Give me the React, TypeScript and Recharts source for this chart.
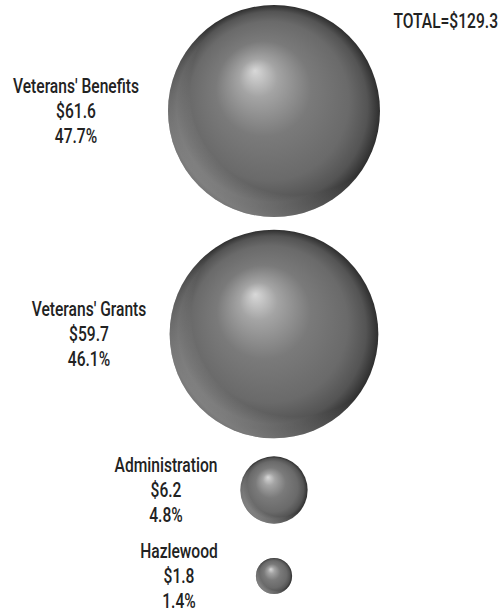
import { ScatterChart, Scatter, XAxis, YAxis, ZAxis } from "recharts";

const categories = ["Veterans' Benefits", "Veterans' Grants", "Administration", "Hazlewood"];
const amounts = [61.6, 59.7, 6.2, 1.8];
const shares = [47.7, 46.1, 4.8, 1.4];
const total = 129.3;

// layout only (row centres and label centres, in px)
const rowY = [111, 334, 490, 576];
const labelX = [76, 89, 166, 179];
const CENTER_X = 274;
const W = 499;
const H = 614;
const MAX_R = 106;

const data = categories.map((name, i) => ({
  name,
  value: amounts[i],
  share: shares[i],
  x: CENTER_X,
  y: rowY[i],
  lx: labelX[i],
}));

const FONT = "Roboto, 'Liberation Sans', sans-serif";
const SQUEEZE = 0.8;

function Sphere(props: any) {
  const { cx, cy, width, payload } = props;
  const r = width / 2;
  const lines = [payload.name, `$${payload.value.toFixed(1)}`, `${payload.share.toFixed(1)}%`];
  return (
    <g>
      <circle cx={cx} cy={cy} r={r} fill="url(#sphereBody)" />
      <circle cx={cx} cy={cy} r={r} fill="url(#sphereRim)" />
      <g transform={`translate(${payload.lx},${cy}) scale(${SQUEEZE},1)`}>
        <text textAnchor="middle" fontFamily={FONT} fontWeight={500} fontSize={19.5} fill="#222">
          {lines.map((t, i) => (
            <tspan key={i} x={0} y={(i - 1) * 25 + 7}>
              {t}
            </tspan>
          ))}
        </text>
      </g>
    </g>
  );
}

export default function App() {
  return (
    <div style={{ position: "fixed", left: 0, top: 0, width: W, height: H, background: "#fff" }}>
      <ScatterChart width={W} height={H} margin={{ top: 0, right: 0, bottom: 0, left: 0 }}>
        <defs>
          <radialGradient id="sphereBody" cx="50%" cy="50%" r="50%" fx="41%" fy="31%">
            <stop offset="0" stopColor="#d8d8d8" />
            <stop offset="0.18" stopColor="#a4a4a4" />
            <stop offset="0.45" stopColor="#7a7a7a" />
            <stop offset="0.75" stopColor="#6a6a6a" />
            <stop offset="0.9" stopColor="#545454" />
            <stop offset="1" stopColor="#2e2e2e" />
          </radialGradient>
          <radialGradient id="sphereRim" cx="60%" cy="40%" r="62%">
            <stop offset="0.8" stopColor="#ffffff" stopOpacity={0} />
            <stop offset="1" stopColor="#ffffff" stopOpacity={0.35} />
          </radialGradient>
        </defs>
        <XAxis type="number" dataKey="x" domain={[0, W]} hide />
        <YAxis type="number" dataKey="y" domain={[0, H]} reversed hide />
        <ZAxis type="number" dataKey="value" domain={[0, amounts[0]]} range={[0, Math.PI * MAX_R * MAX_R]} />
        <Scatter data={data} shape={Sphere} isAnimationActive={false} />
        <g transform={`translate(498,28) scale(${SQUEEZE},1)`}>
          <text x={0} y={0} textAnchor="end" fontFamily={FONT} fontWeight={500} fontSize={19.5} fill="#222">
            {`TOTAL=$${total.toFixed(1)}`}
          </text>
        </g>
      </ScatterChart>
    </div>
  );
}
